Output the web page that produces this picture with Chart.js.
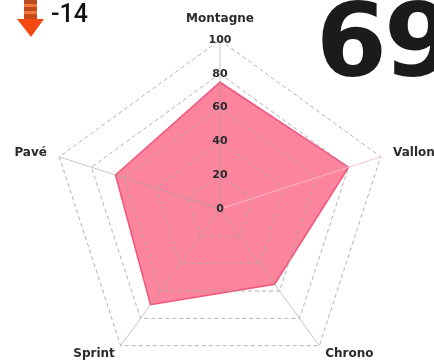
<!DOCTYPE html>
<html>
<head>
<meta charset="utf-8">
<script src="https://cdn.jsdelivr.net/npm/chart.js@4.4.1/dist/chart.umd.min.js"></script>
<style>
  html, body { margin: 0; padding: 0; background: #fff; overflow: hidden; }
  #wrap { position: relative; width: 434px; height: 361px; overflow: hidden; }
  #radar { position: absolute; left: 0; top: 0; }
  #score { position: absolute; left: 316px; top: -10px; font: 700 102px "DejaVu Sans", sans-serif; color: #1b1b1b; letter-spacing: -3px; line-height: 1; white-space: nowrap; }
  #delta { position: absolute; left: 51px; top: 1px; font: 500 25px Roboto, "DejaVu Sans", sans-serif; color: #111; line-height: 1; }
  #arrow { position: absolute; left: 16px; top: 0; }
</style>
</head>
<body>
<div id="wrap">
  <canvas id="radar" width="440" height="400"></canvas>
  <svg id="arrow" width="30" height="40" viewBox="0 0 30 40">
    <rect x="8" y="0" width="13" height="4" fill="#b94a20"/>
    <rect x="8" y="4" width="13" height="3" fill="#f07a3c"/>
    <rect x="8" y="7" width="13" height="4" fill="#bf4a1e"/>
    <rect x="8" y="11" width="13" height="3" fill="#f07a3c"/>
    <rect x="8" y="14" width="13" height="5" fill="#c84a18"/>
    <polygon points="1,19 28,19 15,37" fill="#f24a12"/>
  </svg>
  <div id="delta">-14</div>
  <div id="score">69</div>
</div>
<script>
const categories = ['Montagne', 'Vallon', 'Chrono', 'Sprint', 'Pavé'];
const values = [75, 80, 55, 70, 65];
const tickValues = [0, 20, 40, 60, 80, 100];

const LABEL_FONT = 'bold 12px "DejaVu Sans", sans-serif';
const TICK_FONT = 'bold 11px "DejaVu Sans", sans-serif';

// Category names around the web, and the "0" the radial scale leaves out at its centre.
const radarText = {
  id: 'radarText',
  afterDraw(chart) {
    const s = chart.scales.r;
    const ctx = chart.ctx;
    const outer = s.getDistanceFromCenterForValue(s.max);
    ctx.save();
    ctx.fillStyle = '#2b2b2b';
    ctx.textBaseline = 'middle';

    ctx.font = TICK_FONT;
    ctx.textAlign = 'center';
    ctx.fillText(String(tickValues[0]), s.xCenter, s.yCenter);

    ctx.font = LABEL_FONT;
    categories.forEach((name, i) => {
      const a = s.getIndexAngle(i);
      const sin = Math.sin(a), cos = Math.cos(a);
      const pad = cos > 0.99 ? 21 : (cos < 0 ? 10 : 13);
      const p = s.getPointPosition(i, outer + pad);
      ctx.textAlign = sin > 0.1 ? 'left' : (sin < -0.1 ? 'right' : 'center');
      ctx.fillText(name, p.x, p.y);
    });
    ctx.restore();
  }
};

new Chart(document.getElementById('radar'), {
  type: 'radar',
  data: {
    labels: categories,
    datasets: [{
      data: values,
      backgroundColor: 'rgba(251, 110, 140, 0.85)',
      borderColor: '#f2557a',
      borderWidth: 1.5,
      pointRadius: 0,
      pointHoverRadius: 0
    }]
  },
  options: {
    responsive: false,
    animation: false,
    events: [],
    plugins: { legend: { display: false }, tooltip: { enabled: false } },
    layout: { padding: { top: 33, bottom: 14, left: 0, right: 0 } },
    scales: {
      r: {
        min: tickValues[0],
        max: tickValues[tickValues.length - 1],
        afterBuildTicks(scale) {
          scale.ticks = tickValues.map(v => ({ value: v }));
        },
        ticks: {
          z: 1,
          showLabelBackdrop: false,
          color: '#2b2b2b',
          font: { family: '"DejaVu Sans", sans-serif', size: 11, weight: 'bold' }
        },
        grid: {
          z: 1,
          color: 'rgba(165,165,165,0.85)'
        },
        border: { dash: [4, 3] },
        angleLines: {
          color: ctx => ctx.index === 1 ? 'rgba(255,190,205,0.95)' : 'rgba(160,160,160,0.6)',
          lineWidth: 1
        },
        pointLabels: { display: false }
      }
    }
  },
  plugins: [radarText]
});
</script>
</body>
</html>
